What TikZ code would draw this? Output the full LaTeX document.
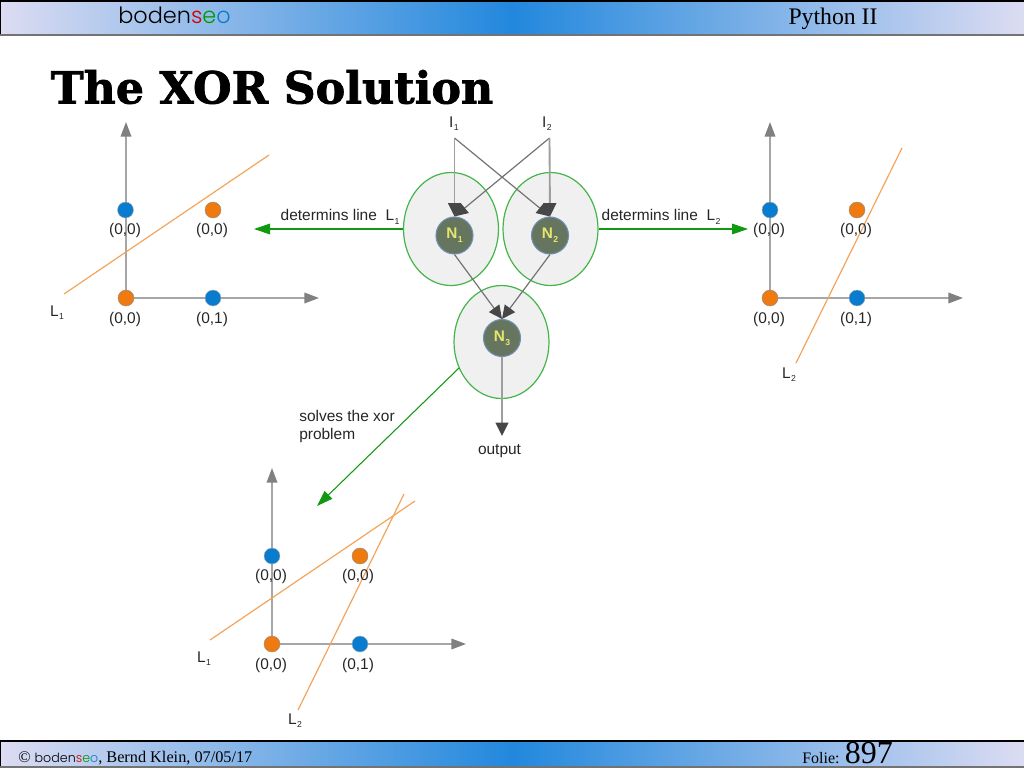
\documentclass[tikz,border=0pt]{standalone}
\usepackage{fontspec}
\usepackage{xcolor}
\setmainfont{Liberation Sans}
\newfontfamily\serifbody{Liberation Serif}
\newfontfamily\titlefont[FakeBold=1.6]{DejaVu Serif Bold}
\newfontfamily\logofont{Poppins Light}
\usetikzlibrary{shapes.geometric,arrows.meta,positioning}

\definecolor{barlight}{HTML}{DCDCF2}
\definecolor{barblue}{HTML}{2288DD}
\definecolor{dotblue}{HTML}{0A7CCF}
\definecolor{dotorange}{HTML}{EE7A10}
\definecolor{lineorange}{HTML}{F5A35C}
\definecolor{cellgreen}{HTML}{44B54A}
\definecolor{arrowgreen}{HTML}{119911}
\definecolor{neuron}{HTML}{66755E}
\definecolor{neuronedge}{HTML}{6F8FB5}
\definecolor{neurontext}{HTML}{E6E66E}
\newcommand{\logoname}{{\logofont boden\textcolor{red!85!black}{s}\textcolor{green!60!black}{e}\textcolor{dotblue}{o}}}
\newcommand{\subidx}[1]{\kern0.3pt\raisebox{-0.45ex}{\fontsize{6.5}{7}\selectfont #1}}

\begin{document}
\begin{tikzpicture}[
    x=0.75pt, y=-0.75pt,
    bar/.style={left color=barlight, right color=barlight, middle color=barblue},
    barline/.style={black!55, line width=0.9pt},
    cell/.style={ellipse, draw=cellgreen, fill=black!6, line width=0.9pt, minimum width=71.25pt, minimum height=84.75pt, inner sep=0pt},
    neuronnode/.style={circle, draw=neuronedge, fill=neuron, line width=0.8pt, minimum size=27.75pt, inner sep=0pt, text=neurontext, font=\fontsize{11.5}{12}\selectfont\bfseries},
    blueDot/.style={circle, draw=black!30, fill=dotblue, line width=0.3pt, minimum size=12pt, inner sep=0pt},
    orangeDot/.style={circle, draw=black!45, fill=dotorange, line width=0.3pt, minimum size=12pt, inner sep=0pt},
    lbl/.style={font=\fontsize{11.6}{13.5}\selectfont, text=black!85, inner sep=0pt, yshift=-1.2pt},
    axis/.style={black!35, line width=1.1pt, -{Triangle[width=8pt, length=11pt, color=black!50]}},
    wire/.style={black!55, line width=0.9pt, -{Triangle[width=9.5pt, length=10pt, color=black!72]}},
    wirestraight/.style={black!38, line width=1.4pt, -{Triangle[width=9.5pt, length=10pt, color=black!72]}},
    greenarrow/.style={arrowgreen, line width=0.8pt, -{Triangle[width=8pt, length=12pt]}},
    boundary/.style={lineorange, line width=0.9pt}
]
\useasboundingbox (0,0) rectangle (1024,768);

% bars
\path[bar] (0,0) rectangle (1024,35);
\path[bar] (0,741) rectangle (1024,767);
\draw[black, line width=1.2pt] (0,35) -- (0,1) -- (1024,1);
\draw[barline] (0,35) -- (1024,35);
\draw[black, line width=0.9pt] (0,767) -- (0,741) -- (1024,741);
\draw[barline] (0,767) -- (1024,767);
\node[anchor=west, inner sep=0pt, font=\fontsize{16.8}{20}\selectfont] (logo) at (118,15) {\logoname};
\node[inner sep=0pt, font=\serifbody\fontsize{17.8}{20}\selectfont] (course) at (833,19) {Python II};
\node[anchor=base west, inner sep=0pt, font=\serifbody\fontsize{12.2}{13}\selectfont] (credit) at (18,762) {\textcopyright\ {\fontsize{9.5}{13}\selectfont\logoname}, Bernd Klein, 07/05/17};
\node[anchor=base west, inner sep=0pt, font=\serifbody\fontsize{12}{13}\selectfont] (folie) at (802,763) {Folie: {\fontsize{24}{20}\selectfont 897}};
\node[inner sep=0pt, font=\titlefont\fontsize{33.2}{40}\selectfont] (title) at (272,87) {The XOR Solution};

% network
\node[cell] (cell1) at (451,229) {};
\node[cell] (cell2) at (550.5,229) {};
\node[cell] (cell3) at (501.5,342) {};
\node[neuronnode] (n1) at (454.5,235.5) {N\subidx{1}};
\node[neuronnode] (n2) at (550,235.5) {N\subidx{2}};
\node[neuronnode] (n3) at (502,338) {N\subidx{3}};
\node[lbl] (i1) at (454,122) {I\subidx{1}};
\node[lbl] (i2) at (547,122) {I\subidx{2}};
\coordinate (i1out) at (454.5,138);
\coordinate (i2out) at (549.5,138);
\node[lbl] (output) at (499.5,449) {output};
\coordinate (outtip) at (502,436);

\draw[wire] (i1out) -- (n2.north);
\draw[wire] (i2out) -- (n1.north);
\draw[wirestraight] (i1out) -- (n1.north);
\draw[wirestraight] (i2out) -- (n2.north);
\draw[wire] (n1.south) -- (n3.north);
\draw[wire] (n2.south) -- (n3.north);
\draw[wirestraight] (n3.south) -- (outtip);

% green arrows
\coordinate (lefttip) at (254,229);
\coordinate (righttip) at (748,229);
\coordinate (solvestart) at (459,368);
\coordinate (solvetip) at (317,506);
\draw[greenarrow] (cell1.west) -- (lefttip);
\draw[greenarrow] (cell2.east) -- (righttip);
\draw[greenarrow] (solvestart) -- (solvetip);
\node[lbl] (det1) at (340,215) {determins line\ \ L\subidx{1}};
\node[lbl] (det2) at (661,215) {determins line\ \ L\subidx{2}};
\node[lbl, anchor=west, align=left] (solves) at (299,425) {solves the xor\\problem};

% left plot
\coordinate (a0) at (126,298);
\coordinate (ay) at (126,122);
\coordinate (ax) at (319,298);
\coordinate (al1) at (64,294);
\coordinate (al2) at (269,155);
\draw[axis] (a0) -- (ay);
\draw[axis] (a0) -- (ax);
\draw[boundary] (al1) -- (al2);
\node[blueDot] (a1) at (125.5,210) {};
\node[orangeDot] (a2) at (213,210) {};
\node[orangeDot] (a3) at (a0) {};
\node[blueDot] (a4) at (213,298) {};
\node[lbl] at (125,229) {(0,0)};
\node[lbl] at (212,229) {(0,0)};
\node[lbl] at (125,318) {(0,0)};
\node[lbl] at (212,318) {(0,1)};
\node[lbl] at (57,311) {L\subidx{1}};

% right plot
\coordinate (b0) at (770,298);
\coordinate (by) at (770,122);
\coordinate (bx) at (963,298);
\coordinate (bl1) at (796,363);
\coordinate (bl2) at (902,148);
\draw[axis] (b0) -- (by);
\draw[axis] (b0) -- (bx);
\draw[boundary] (bl1) -- (bl2);
\node[blueDot] (b1) at (770,210) {};
\node[orangeDot] (b2) at (857,210) {};
\node[orangeDot] (b3) at (b0) {};
\node[blueDot] (b4) at (857,298) {};
\node[lbl] at (769,229) {(0,0)};
\node[lbl] at (856,229) {(0,0)};
\node[lbl] at (769,318) {(0,0)};
\node[lbl] at (856,318) {(0,1)};
\node[lbl] at (789,373) {L\subidx{2}};

% solution plot
\coordinate (c0) at (272,644);
\coordinate (cy) at (272,468);
\coordinate (cx) at (466,644);
\coordinate (cl1) at (210,640);
\coordinate (cl2) at (415,501);
\coordinate (cl3) at (298,710);
\coordinate (cl4) at (404,494);
\draw[axis] (c0) -- (cy);
\draw[axis] (c0) -- (cx);
\draw[boundary] (cl1) -- (cl2);
\draw[boundary] (cl3) -- (cl4);
\node[blueDot] (c1) at (272,556) {};
\node[orangeDot] (c2) at (360,556) {};
\node[orangeDot] (c3) at (c0) {};
\node[blueDot] (c4) at (360,644) {};
\node[lbl] at (271,575) {(0,0)};
\node[lbl] at (358,575) {(0,0)};
\node[lbl] at (271,664) {(0,0)};
\node[lbl] at (358,664) {(0,1)};
\node[lbl] at (204,657) {L\subidx{1}};
\node[lbl] at (295,719) {L\subidx{2}};

\end{tikzpicture}
\end{document}
